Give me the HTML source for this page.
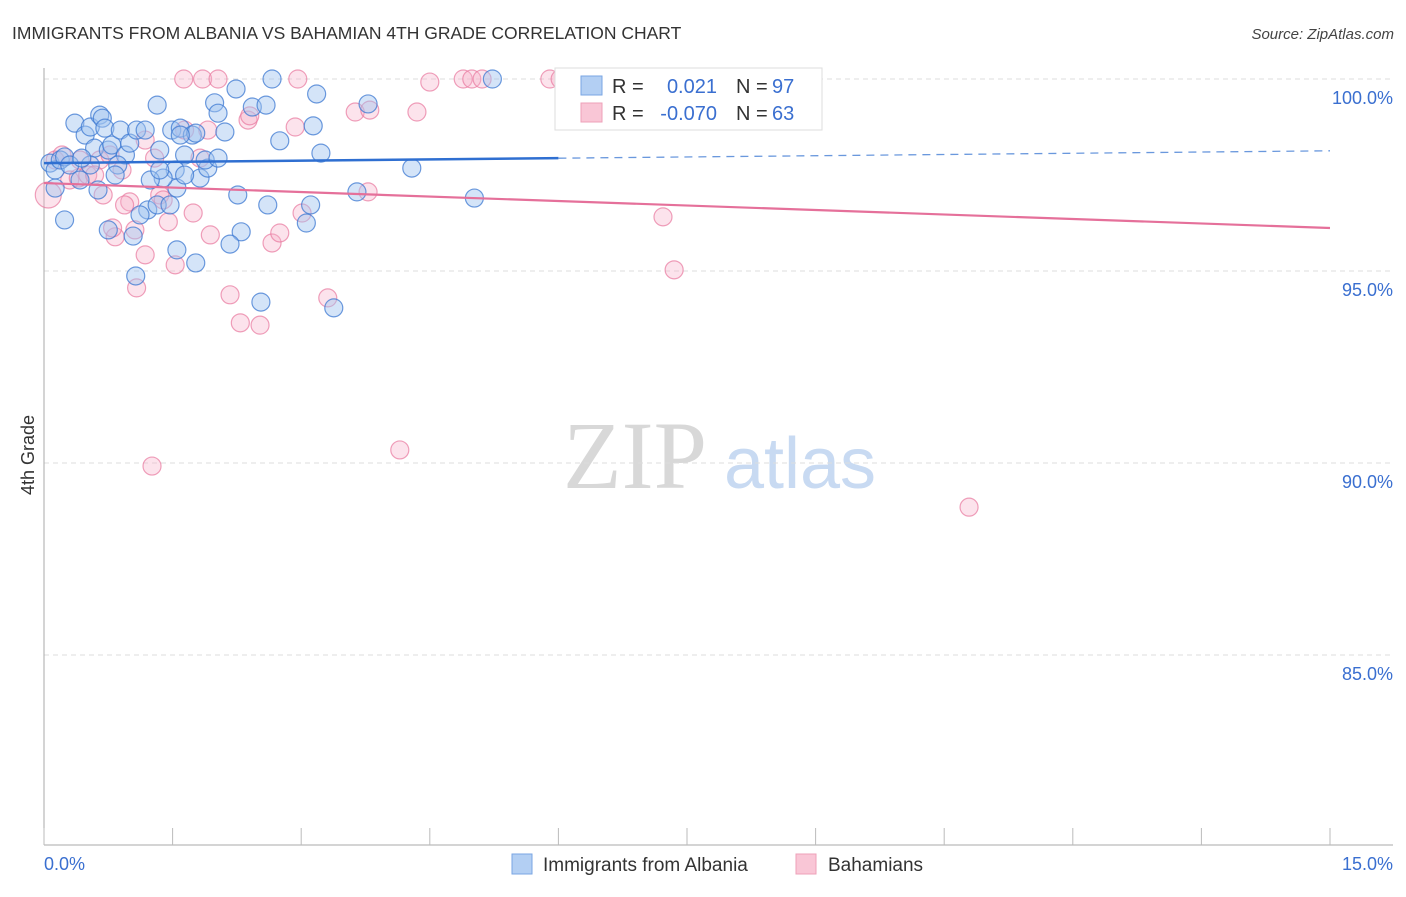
<!DOCTYPE html>
<html><head><meta charset="utf-8"><style>
body{margin:0;background:#fff;font-family:"Liberation Sans",sans-serif;}
</style></head><body>
<svg id="chart" width="1406" height="892" xmlns="http://www.w3.org/2000/svg" font-family="Liberation Sans, sans-serif">
<text x="12" y="39" font-size="17.5" fill="#333">IMMIGRANTS FROM ALBANIA VS BAHAMIAN 4TH GRADE CORRELATION CHART</text>
<text x="1394" y="39" font-size="15" fill="#444" font-style="italic" text-anchor="end">Source: ZipAtlas.com</text>
<g>
<text x="635" y="488" font-size="96" fill="#d8d8d8" font-family="Liberation Serif, serif" text-anchor="middle">ZIP</text>
<text x="800" y="488" font-size="72" fill="#c8daf2" text-anchor="middle">atlas</text>
</g>
<g id="grid"></g>
<g id="axes"></g>
<g id="points"></g>
<g id="trends"></g>
<text transform="translate(34,455) rotate(-90)" font-size="18" fill="#333" text-anchor="middle">4th Grade</text>
<g>
<rect x="555" y="68" width="267" height="62" fill="#fff" stroke="#ddd"/>
<rect x="581" y="76" width="21" height="19" fill="#b3cff3" stroke="#7aa6e3"/>
<rect x="581" y="103" width="21" height="19" fill="#f9c6d6" stroke="#eea0b8"/>
<text x="612" y="93" font-size="20" fill="#333">R = </text><text x="717" y="93" font-size="20" fill="#3a6fd0" text-anchor="end">0.021</text>
<text x="736" y="93" font-size="20" fill="#333">N = </text><text x="772" y="93" font-size="20" fill="#3a6fd0">97</text>
<text x="612" y="120" font-size="20" fill="#333">R = </text><text x="717" y="120" font-size="20" fill="#3a6fd0" text-anchor="end">-0.070</text>
<text x="736" y="120" font-size="20" fill="#333">N = </text><text x="772" y="120" font-size="20" fill="#3a6fd0">63</text>
</g>
<g>
<rect x="512" y="854" width="20" height="20" fill="#b3cff3" stroke="#7aa6e3"/>
<text x="543" y="871" font-size="19" fill="#333">Immigrants from Albania</text>
<rect x="796" y="854" width="20" height="20" fill="#f9c6d6" stroke="#eea0b8"/>
<text x="828" y="871" font-size="19" fill="#333">Bahamians</text>
</g>
</svg>
<script>
const yTicks=[100,95,90,85];
const yTickLabels=["100.0%","95.0%","90.0%","85.0%"];
const xTicks=[0,1.5,3,4.5,6,7.5,9,10.5,12,13.5,15];
const blueX=[.07,.13,.19,.24,.36,.48,.54,.59,.65,.68,.71,.75,.79,.89,.95,1.00,1.08,1.18,1.32,1.35,1.49,1.59,1.64,1.73,1.99,2.03,2.11,2.24,2.43,2.59,2.66,2.75,3.18,3.14,3.23,3.78,5.23,4.29,5.02,3.65,.24,.75,1.04,1.21,1.32,1.47,1.53,1.55,1.39,1.82,1.91,2.26,2.30,2.17,2.61,3.06,3.11,3.38,2.53,1.77,1.55,1.07,.63,.13,.42,.86,1.24,.83,1.35,1.64,1.88,2.03,1.77,1.12,.54,.30,.44,1.59];
const blueY=[97.81,97.63,97.89,97.97,98.85,98.54,98.75,98.20,99.06,98.98,98.72,98.15,98.28,98.67,98.02,98.33,98.67,98.67,99.32,98.15,98.67,98.72,98.02,98.54,99.38,99.11,98.62,99.74,99.27,99.32,100,98.39,99.61,98.78,98.07,99.35,100,97.68,96.90,97.06,96.33,96.07,95.91,96.59,96.72,96.72,97.63,97.16,97.42,97.42,97.68,96.98,96.02,95.70,96.72,96.25,96.72,94.04,94.19,95.21,95.55,94.87,97.11,97.16,97.37,97.76,97.37,97.50,97.63,97.50,97.89,97.94,98.59,96.46,97.76,97.76,97.94,98.54];
const pinkX=[.05,.13,.21,.30,.40,.51,.65,.69,.83,.91,1.00,1.06,1.18,1.08,1.26,1.35,1.45,1.53,1.63,1.85,2.03,1.91,1.94,2.17,2.29,2.52,2.38,2.66,2.75,2.96,2.93,3.01,3.31,3.63,3.80,3.78,4.15,4.35,4.50,4.89,4.99,5.11,5.90,6.02,7.22,7.35,10.79,1.18,1.64,1.82,1.39,.94,.59,.42,2.40,.80,.77,1.29,1.74];
const pinkY=[96.98,97.89,98.02,97.37,97.42,97.50,97.89,96.98,95.89,97.63,96.80,96.07,95.42,94.56,89.92,96.98,96.28,95.16,100,100,100,98.67,95.94,94.38,93.65,93.59,98.93,95.73,95.99,100,98.75,96.51,94.30,99.14,99.19,97.06,90.34,99.14,99.92,100,100,100,100,100,96.41,95.03,88.85,98.41,98.67,97.94,96.85,96.72,97.50,97.89,99.04,96.12,98.02,97.94,96.51];
const blueTrend=[97.81,98.13];
const pinkTrend=[97.29,96.12];

const NS="http://www.w3.org/2000/svg";
const X0=44,X1=1330,Y100=79,PX5=192;
function sx(v){return X0+(v-0)/15*(X1-X0);}
function sy(v){return Y100+(100-v)/5*PX5;}
function mk(tag,attrs,parent){const e=document.createElementNS(NS,tag);for(const k in attrs)e.setAttribute(k,attrs[k]);parent.appendChild(e);return e;}
const grid=document.getElementById('grid'),axes=document.getElementById('axes'),pts=document.getElementById('points'),tr=document.getElementById('trends');
yTicks.forEach((t,i)=>{
 const l=mk('line',{x1:X0,x2:1393,y1:sy(t),y2:sy(t),stroke:'#ddd','stroke-dasharray':'5,4'},grid);
 
 
 const tx=mk('text',{x:1393,y:sy(t)+25,'font-size':18,fill:'#3a6fd0','text-anchor':'end'},axes);
 tx.textContent=yTickLabels[i];
 
 
});
const ya=mk('line',{x1:X0,x2:X0,y1:68,y2:845,stroke:'#aaa'},axes);


const xa=mk('line',{x1:X0,x2:1393,y1:845,y2:845,stroke:'#aaa'},axes);


xTicks.forEach(t=>{
 const l=mk('line',{x1:sx(t),x2:sx(t),y1:828,y2:845,stroke:'#bbb'},axes);
 
 
});
const xl0=mk('text',{x:X0,y:870,'font-size':18,fill:'#3a6fd0'},axes);xl0.textContent='0.0%';


const xl1=mk('text',{x:1393,y:870,'font-size':18,fill:'#3a6fd0','text-anchor':'end'},axes);xl1.textContent='15.0%';


pinkX.forEach((x,i)=>{
 const c=mk('circle',{cx:sx(x),cy:sy(pinkY[i]),r:i===0?13:9,fill:'rgba(246,176,200,0.35)',stroke:'rgba(232,120,158,0.7)','stroke-width':1.2},pts);
 
 
});
blueX.forEach((x,i)=>{
 const c=mk('circle',{cx:sx(x),cy:sy(blueY[i]),r:9,fill:'rgba(160,196,240,0.45)',stroke:'rgba(60,120,210,0.75)','stroke-width':1.2},pts);
 
 
});
function lerp(a,b,t){return a+(b-a)*t;}
const b1=mk('line',{x1:sx(0),y1:sy(blueTrend[0]),x2:sx(6),y2:sy(lerp(blueTrend[0],blueTrend[1],6/15)),stroke:'#2f6fd1','stroke-width':2.5},tr);


const b2=mk('line',{x1:sx(6),y1:sy(lerp(blueTrend[0],blueTrend[1],6/15)),x2:sx(15),y2:sy(blueTrend[1]),stroke:'#6a98dd','stroke-width':1.3,'stroke-dasharray':'8,6'},tr);


const p1=mk('line',{x1:sx(0),y1:sy(pinkTrend[0]),x2:sx(15),y2:sy(pinkTrend[1]),stroke:'#e5709a','stroke-width':2.2},tr);


</script>
</body></html>
